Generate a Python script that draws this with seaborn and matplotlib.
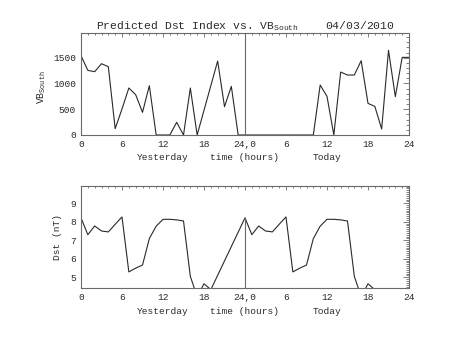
import numpy as np
import pandas as pd
import matplotlib
matplotlib.use("Agg")
import matplotlib.pyplot as plt
from matplotlib.ticker import MultipleLocator, FixedLocator
import seaborn as sns

# Hourly southward solar-wind driver (VB_South), yesterday hours 0-23 and today hours 0-24
vb_yesterday = [1540, 1255, 1229, 1384, 1326, 123, 505, 912, 783, 440, 957, 0,
                0, 0, 246, 0, 912, 0, 479, 957, 1436, 550, 944, 0]
vb_today = [0, 0, 0, 0, 0, 0, 0, 0, 0, 0, 0, 970,
            750, 0, 1222, 1164, 1164, 1442, 614, 556, 116, 1643, 744, 1507, 1507]

# Predicted Dst index (nT), hours 0-19 of each day
dst_yesterday = [8.21, 7.30, 7.77, 7.50, 7.45, 7.86, 8.26, 5.29, 5.49, 5.66,
                 7.09, 7.76, 8.13, 8.13, 8.10, 8.04, 5.05, 3.95, 4.65, 4.33]
dst_today = [8.21, 7.30, 7.77, 7.50, 7.45, 7.86, 8.26, 5.29, 5.49, 5.66,
             7.09, 7.76, 8.13, 8.13, 8.10, 8.04, 5.05, 3.95, 4.65, 4.33]

time_ticks = [0, 6, 12, 18, 24, 30, 36, 42, 48]
time_labels = ["0", "6", "12", "18", "24,0", "6", "12", "18", "24"]
day_labels = ["Yesterday", "time (hours)", "Today"]
day_label_pos = [12, 24, 36]
title_text = r"Predicted Dst Index vs. VB$_{\rm South}$    04/03/2010"

sns.set_theme(style="white")
plt.rcParams["font.family"] = ["Liberation Mono", "DejaVu Sans"]
plt.rcParams["mathtext.fontset"] = "custom"
plt.rcParams["mathtext.rm"] = "Liberation Mono"
plt.rcParams["mathtext.bf"] = "Liberation Mono:bold"

ink = "#2a2a2a"
edge = "#6a6a6a"

vb_df = pd.DataFrame({
    "hour": list(range(len(vb_yesterday))) + [24 + h for h in range(len(vb_today))],
    "vb": vb_yesterday + vb_today,
})
dst_df = pd.DataFrame({
    "hour": list(range(len(dst_yesterday))) + [24 + h for h in range(len(dst_today))],
    "dst": dst_yesterday + dst_today,
})

fig = plt.figure(figsize=(4.53, 3.40), dpi=100)
ax1 = fig.add_axes([81 / 453, 1 - 135 / 340, 328 / 453, 102 / 340])
ax2 = fig.add_axes([81 / 453, 1 - 288 / 340, 328 / 453, 102 / 340])

sns.lineplot(data=vb_df, x="hour", y="vb", ax=ax1, color=ink, linewidth=0.8,
             estimator=None, sort=False)
sns.lineplot(data=dst_df, x="hour", y="dst", ax=ax2, color=ink, linewidth=0.8,
             estimator=None, sort=False)

ax1.set_ylim(0, 1980)
ax2.set_ylim(4.42, 9.93)

# day boundary markers
ax1.axvline(24, color=edge, linewidth=0.8)
ax2.vlines(24, ax2.get_ylim()[0], dst_today[0], color=edge, linewidth=0.8)

for ax in (ax1, ax2):
    ax.set_xlim(0, 48)
    ax.xaxis.set_major_locator(FixedLocator(time_ticks))
    ax.set_xticklabels(time_labels)
    ax.xaxis.set_minor_locator(MultipleLocator(1))
    ax.tick_params(axis="both", which="both", direction="in", top=True, right=True,
                   colors=edge, labelcolor=ink, labelsize=6.8, width=0.6)
    ax.tick_params(axis="x", which="major", length=3, pad=3.5)
    ax.tick_params(axis="x", which="minor", length=1.6)
    ax.tick_params(axis="y", which="major", length=4.5, pad=3.5)
    ax.tick_params(axis="y", which="minor", length=2.2)
    for s in ax.spines.values():
        s.set_color(edge)
        s.set_linewidth(0.8)
    ax.set_xlabel("")
    for txt, pos in zip(day_labels, day_label_pos):
        ax.annotate(txt, xy=(pos, 0), xycoords=ax.get_xaxis_transform(),
                    xytext=(0, -23), textcoords="offset pixels",
                    ha="center", va="center", fontsize=6.8, color=ink)

ax1.yaxis.set_major_locator(MultipleLocator(500))
ax1.yaxis.set_minor_locator(MultipleLocator(100))
ax2.yaxis.set_major_locator(MultipleLocator(1))
ax2.yaxis.set_minor_locator(MultipleLocator(0.1))

ax1.set_ylabel(r"VB$_{\rm South}$", fontsize=7, color=ink, va="center")
ax1.yaxis.set_label_coords((42 - 81) / 328, 0.47)
ax2.set_ylabel("Dst (nT)", fontsize=6.8, color=ink, va="center")
ax2.yaxis.set_label_coords((58 - 81) / 328, 0.5)

ax1.set_title(title_text, fontsize=8.2, color=ink, pad=3)

fig.savefig("out.png", dpi=100, facecolor="white")
